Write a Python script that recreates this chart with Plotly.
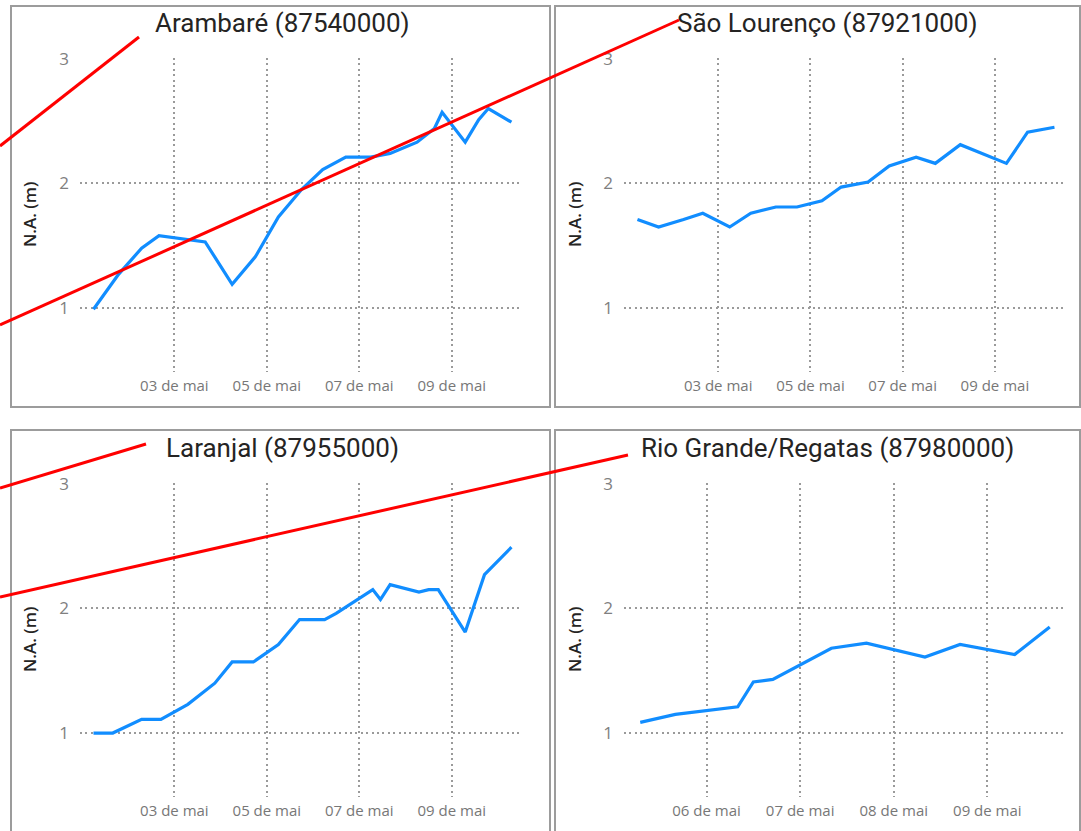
import plotly.graph_objects as go

# Nível d'água (m) por estação
arambare_time = ["2024-05-01 06:00", "2024-05-01 19:00", "2024-05-02 07:00", "2024-05-02 16:00",
                 "2024-05-03 16:00", "2024-05-04 06:00", "2024-05-04 18:00", "2024-05-05 06:00",
                 "2024-05-05 18:00", "2024-05-06 05:00", "2024-05-06 17:00", "2024-05-07 06:00",
                 "2024-05-07 16:00", "2024-05-08 06:00", "2024-05-08 15:00", "2024-05-08 19:00",
                 "2024-05-09 07:00", "2024-05-09 14:00", "2024-05-09 19:00", "2024-05-10 07:00"]
arambare_na = [0.99, 1.27, 1.48, 1.58, 1.53, 1.19, 1.41, 1.73, 1.95, 2.11,
               2.21, 2.21, 2.24, 2.33, 2.44, 2.57, 2.33, 2.51, 2.60, 2.49]

sao_lourenco_time = ["2024-05-01 06:00", "2024-05-01 17:00", "2024-05-02 06:00", "2024-05-02 16:00",
                     "2024-05-03 06:00", "2024-05-03 17:00", "2024-05-04 06:00", "2024-05-04 17:00",
                     "2024-05-05 06:00", "2024-05-05 16:00", "2024-05-06 06:00", "2024-05-06 17:00",
                     "2024-05-07 07:00", "2024-05-07 17:00", "2024-05-08 06:00", "2024-05-09 06:00",
                     "2024-05-09 17:00", "2024-05-10 07:00"]
sao_lourenco_na = [1.71, 1.65, 1.71, 1.76, 1.65, 1.76, 1.81, 1.81, 1.86, 1.97,
                   2.01, 2.14, 2.21, 2.16, 2.31, 2.16, 2.41, 2.45]

laranjal_time = ["2024-05-01 06:00", "2024-05-01 16:00", "2024-05-02 07:00", "2024-05-02 17:00",
                 "2024-05-03 07:00", "2024-05-03 21:00", "2024-05-04 06:00", "2024-05-04 17:00",
                 "2024-05-05 06:00", "2024-05-05 17:00", "2024-05-06 06:00", "2024-05-06 12:00",
                 "2024-05-07 07:00", "2024-05-07 11:00", "2024-05-07 16:00", "2024-05-08 07:00",
                 "2024-05-08 12:00", "2024-05-08 17:00", "2024-05-09 07:00", "2024-05-09 17:00",
                 "2024-05-10 07:00"]
laranjal_na = [1.00, 1.00, 1.11, 1.11, 1.23, 1.40, 1.57, 1.57, 1.71, 1.91, 1.91,
               1.96, 2.15, 2.07, 2.19, 2.13, 2.15, 2.15, 1.81, 2.27, 2.49]

rio_grande_time = ["2024-05-05 07:00", "2024-05-05 16:00", "2024-05-06 08:00", "2024-05-06 12:00",
                   "2024-05-06 17:00", "2024-05-07 08:00", "2024-05-07 17:00", "2024-05-08 08:00",
                   "2024-05-08 17:00", "2024-05-09 07:00", "2024-05-09 16:00"]
rio_grande_na = [1.085, 1.15, 1.21, 1.41, 1.43, 1.68, 1.72, 1.61, 1.71, 1.63, 1.85]

titles = ["Arambaré (87540000)", "São Lourenço (87921000)",
          "Laranjal (87955000)", "Rio Grande/Regatas (87980000)"]

days_a = ["2024-05-03", "2024-05-05", "2024-05-07", "2024-05-09"]
days_a_text = ["03 de mai", "05 de mai", "07 de mai", "09 de mai"]
days_b = ["2024-05-06", "2024-05-07", "2024-05-08", "2024-05-09"]
days_b_text = ["06 de mai", "07 de mai", "08 de mai", "09 de mai"]

W, H = 1081, 831


def px_x(v):
    return v / W


def px_y(v):
    return 1 - v / H


series = [(arambare_time, arambare_na), (sao_lourenco_time, sao_lourenco_na),
          (laranjal_time, laranjal_na), (rio_grande_time, rio_grande_na)]

fig = go.Figure()
for i, (t, v) in enumerate(series):
    sfx = "" if i == 0 else str(i + 1)
    fig.add_trace(go.Scatter(x=t, y=v, mode="lines", xaxis="x" + sfx, yaxis="y" + sfx,
                             line=dict(color="#118DFF", width=3.2), showlegend=False))

# posições dos painéis em pixels
x_doms = [(80, 523), (624, 1066), (80, 523), (624, 1066)]
y_doms = [(58, 372), (58, 372), (483, 797), (483, 797)]
x_ranges = [["2024-04-30 23:00", "2024-05-10 13:00"]] * 3 + [["2024-05-05 02:50", "2024-05-09 20:10"]]
ticks = [(days_a, days_a_text)] * 3 + [(days_b, days_b_text)]
y_ranges = [[0.487, 3.005]] * 4

grid = dict(showgrid=True, gridcolor="#9a9a9a", gridwidth=2, griddash="2px,3.4px",
            zeroline=False, showline=False, ticks="", automargin=False)

layout = {}
for i in range(4):
    sfx = "" if i == 0 else str(i + 1)
    layout["xaxis" + sfx] = dict(
        grid, type="date", domain=[px_x(x_doms[i][0]), px_x(x_doms[i][1])],
        range=x_ranges[i], anchor="y" + sfx, tickvals=ticks[i][0], ticktext=ticks[i][1],
        tickfont=dict(family="Open Sans", size=15, color="#777777"), ticklabelstandoff=3)
    layout["yaxis" + sfx] = dict(
        grid, domain=[px_y(y_doms[i][1]), px_y(y_doms[i][0])], range=y_ranges[i],
        anchor="x" + sfx, tickvals=[1, 2, 3],
        tickfont=dict(family="Open Sans", size=17, color="#808080"), ticklabelstandoff=10)

fig.update_layout(**layout)

# molduras dos painéis
frames = [(11, 6, 550, 407), (555, 6, 1080, 407), (11, 430, 550, 845), (555, 430, 1080, 845)]
for x0, y0, x1, y1 in frames:
    fig.add_shape(type="rect", xref="paper", yref="paper", x0=px_x(x0), x1=px_x(x1),
                  y0=px_y(y1), y1=px_y(y0), line=dict(color="#9c9c9c", width=2), layer="below")

title_pos = [(282, 23), (827, 23), (282, 448), (827, 448)]
ytitle_pos = [(29, 215), (574, 215), (29, 640), (574, 640)]
for i in range(4):
    fig.add_annotation(text=titles[i], x=px_x(title_pos[i][0]), y=px_y(title_pos[i][1]),
                       xref="paper", yref="paper", showarrow=False,
                       xanchor="center", yanchor="middle",
                       font=dict(family="Roboto", size=26, color="#252423"))
    fig.add_annotation(text="N.A. (m)", x=px_x(ytitle_pos[i][0]), y=px_y(ytitle_pos[i][1]),
                       xref="paper", yref="paper", showarrow=False, textangle=-90,
                       xanchor="center", yanchor="middle",
                       font=dict(family="Open Sans", size=17, weight=600, color="#252423"))

# traços vermelhos desenhados por cima
red_lines = [(0, 146, 139, 37), (0, 325, 679, 20), (0, 488, 146, 444), (0, 597, 628, 455)]
for x0, y0, x1, y1 in red_lines:
    fig.add_shape(type="line", xref="paper", yref="paper", x0=px_x(x0), y0=px_y(y0),
                  x1=px_x(x1), y1=px_y(y1), line=dict(color="#FF0000", width=3), layer="above")

fig.update_layout(width=W, height=H, margin=dict(l=0, r=0, t=0, b=0),
                  paper_bgcolor="white", plot_bgcolor="white")

fig.write_html("out.html", config={"displayModeBar": False},
               post_script="document.body.style.margin='0';")
